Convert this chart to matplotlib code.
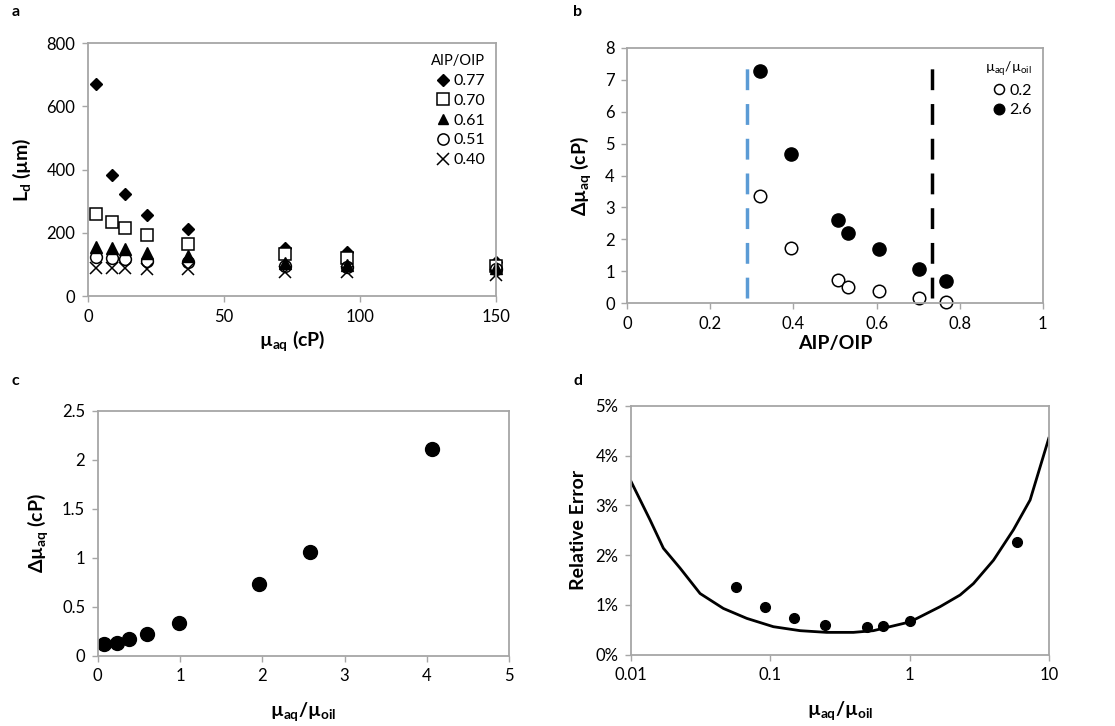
import matplotlib
matplotlib.use("Agg")
from matplotlib import pyplot as plt
from matplotlib.ticker import FuncFormatter, PercentFormatter, FixedLocator, NullLocator


# --------------------------------------------------------------------------------------------------------------------
# a: drop length vs aqueous viscosity, one series per AIP/OIP

mu_aq = [3.0, 8.8, 13.7, 21.7, 36.6, 72.5, 95.2, 150.0]

ld_077 = [670, 384, 323, 258, 213, 154, 141, 108]
ld_070 = [260, 235, 217, 192, 166, 132, 122, 95]
ld_061 = [156, 154, 148, 138, 127, 105, 100, 90]
ld_051 = [124, 122, 119, 111, 108, 95, 93, 85]
ld_040 = [90, 90, 90, 87, 87, 76, 76, 67]

aip_labels = ['0.77', '0.70', '0.61', '0.51', '0.40']

# b: viscosity resolution vs AIP/OIP

aip_oip = [0.319, 0.394, 0.508, 0.532, 0.606, 0.702, 0.766]
dmu_ratio_02 = [3.37, 1.74, 0.73, 0.52, 0.39, 0.16, 0.05]
dmu_ratio_26 = [7.27, 4.67, 2.61, 2.21, 1.71, 1.08, 0.71]

aip_low_limit = 0.289
aip_high_limit = 0.733

# c: viscosity resolution vs viscosity ratio

ratio_c = [0.08, 0.23, 0.38, 0.60, 0.99, 1.965, 2.577, 4.06]
dmu_c = [0.116, 0.133, 0.167, 0.224, 0.337, 0.735, 1.061, 2.105]

# d: relative error vs viscosity ratio, measured and model

ratio_d = [0.0568, 0.0917, 0.148, 0.247, 0.498, 0.648, 1.01, 5.89]
err_d = [1.354, 0.952, 0.73, 0.597, 0.563, 0.576, 0.684, 2.27]

model_ratio = [0.01, 0.01368, 0.01706, 0.02249, 0.0313, 0.0460, 0.0678, 0.1052, 0.1637, 0.2541,
               0.3954, 0.5495, 1.009, 1.656, 2.307, 2.877, 4.009, 5.572, 7.345, 10.0]
model_err = [3.48, 2.71, 2.14, 1.74, 1.23, 0.93, 0.73, 0.563, 0.483, 0.449,
             0.449, 0.483, 0.66, 0.965, 1.2, 1.43, 1.90, 2.51, 3.11, 4.35]


# --------------------------------------------------------------------------------------------------------------------

plt.rcParams['font.family'] = ['Lato', 'DejaVu Sans']
plt.rcParams['font.size'] = 10.5

SPINE = '#a6a6a6'


def style(ax):
    for side in ax.spines.values():
        side.set_color(SPINE)
        side.set_linewidth(1.3)
    ax.tick_params(direction='out', length=4, width=1, color=SPINE, labelsize=12, pad=5)


def plain(v, _pos):
    return '%g' % v


fig = plt.figure(figsize=(11.15, 7.26), dpi=100)

ax_a = fig.add_axes([0.0789, 0.592, 0.366, 0.3485])
ax_b = fig.add_axes([0.5626, 0.5822, 0.3726, 0.352])
ax_c = fig.add_axes([0.0876, 0.0968, 0.369, 0.3375])
ax_d = fig.add_axes([0.566, 0.0982, 0.3746, 0.3426])

for ax in (ax_a, ax_b, ax_c, ax_d):
    style(ax)

label_font = dict(fontsize=14, fontweight='bold')

# a...
ax_a.plot(mu_aq, ld_077, 'D', ms=6, color='black', ls='none', clip_on=False, label=aip_labels[0])
ax_a.plot(mu_aq, ld_070, 's', ms=8.5, mfc='white', mec='black', mew=1.1, ls='none', clip_on=False,
          label=aip_labels[1])
ax_a.plot(mu_aq, ld_061, '^', ms=8, color='black', ls='none', clip_on=False, label=aip_labels[2])
ax_a.plot(mu_aq, ld_051, 'o', ms=8.5, mfc='none', mec='black', mew=1.1, ls='none', clip_on=False,
          label=aip_labels[3])
ax_a.plot(mu_aq, ld_040, 'x', ms=8.5, color='black', mew=1.1, ls='none', clip_on=False, label=aip_labels[4])

ax_a.set_xlim(0, 150)
ax_a.set_ylim(0, 800)
ax_a.set_xticks([0, 50, 100, 150])
ax_a.set_yticks([0, 200, 400, 600, 800])
ax_a.set_xlabel('µ$_\\mathregular{aq}$ (cP)', labelpad=3, **label_font)
ax_a.set_ylabel('L$_\\mathregular{d}$ (µm)', labelpad=10, **label_font)

ax_a.legend(title='AIP/OIP', loc='upper right', frameon=False, fontsize=11.5, title_fontsize=10.5,
            handletextpad=0.0, handlelength=1.2, labelspacing=0.35, borderaxespad=0.3,
            markerscale=0.95, alignment='right')

# b...
ax_b.plot([aip_low_limit, aip_low_limit], [0.18, 7.66], color='#5b9bd5', lw=2.5, dashes=(6, 4))
ax_b.plot([aip_high_limit, aip_high_limit], [0.18, 7.66], color='black', lw=2.5, dashes=(6, 4))

ax_b.plot(aip_oip, dmu_ratio_02, 'o', ms=9, mfc='white', mec='black', mew=1.1, ls='none', clip_on=False,
          label='0.2')
ax_b.plot(aip_oip, dmu_ratio_26, 'o', ms=9.5, color='black', ls='none', clip_on=False, label='2.6')

ax_b.set_xlim(0, 1)
ax_b.set_ylim(0, 8)
ax_b.set_xticks([0, 0.2, 0.4, 0.6, 0.8, 1])
ax_b.set_yticks(range(0, 9))
ax_b.xaxis.set_major_formatter(FuncFormatter(plain))
ax_b.set_xlabel('AIP/OIP', labelpad=2, **label_font)
ax_b.set_ylabel('Δµ$_\\mathregular{aq}$ (cP)', labelpad=8, **label_font)

ax_b.legend(title='µ$_\\mathregular{aq}$/µ$_\\mathregular{oil}$', loc='upper right', frameon=False, fontsize=11.5,
            title_fontsize=10, handletextpad=0.0, handlelength=1.2, labelspacing=0.35, borderaxespad=0.3,
            markerscale=0.8, alignment='right')

# c...
ax_c.plot(ratio_c, dmu_c, 'o', ms=10, color='black', ls='none')

ax_c.set_xlim(0, 5)
ax_c.set_ylim(0, 2.5)
ax_c.set_xticks(range(0, 6))
ax_c.set_yticks([0, 0.5, 1, 1.5, 2, 2.5])
ax_c.yaxis.set_major_formatter(FuncFormatter(plain))
ax_c.set_xlabel('µ$_\\mathregular{aq}$/µ$_\\mathregular{oil}$', labelpad=12, **label_font)
ax_c.set_ylabel('Δµ$_\\mathregular{aq}$ (cP)', labelpad=8, **label_font)

# d...
ax_d.plot(model_ratio, model_err, color='black', lw=2)
ax_d.plot(ratio_d, err_d, 'o', ms=7, color='black', ls='none')

ax_d.set_xscale('log')
ax_d.set_xlim(0.01, 10)
ax_d.set_ylim(0, 5)
ax_d.xaxis.set_major_locator(FixedLocator([0.01, 0.1, 1, 10]))
ax_d.xaxis.set_minor_locator(NullLocator())
ax_d.xaxis.set_major_formatter(FuncFormatter(plain))
ax_d.set_yticks(range(0, 6))
ax_d.yaxis.set_major_formatter(PercentFormatter(xmax=100, decimals=0))
ax_d.set_xlabel('µ$_\\mathregular{aq}$/µ$_\\mathregular{oil}$', labelpad=12, **label_font)
ax_d.set_ylabel('Relative Error', labelpad=6, **label_font)

# panel letters...
for letter, x, y in (('a', 12, 12), ('b', 573, 12), ('c', 12, 381), ('d', 573, 381)):
    fig.text(x / 1115, 1 - y / 726, letter, fontsize=11.5, fontweight='bold', ha='left', va='center')

fig.savefig('out.png', dpi=100)
